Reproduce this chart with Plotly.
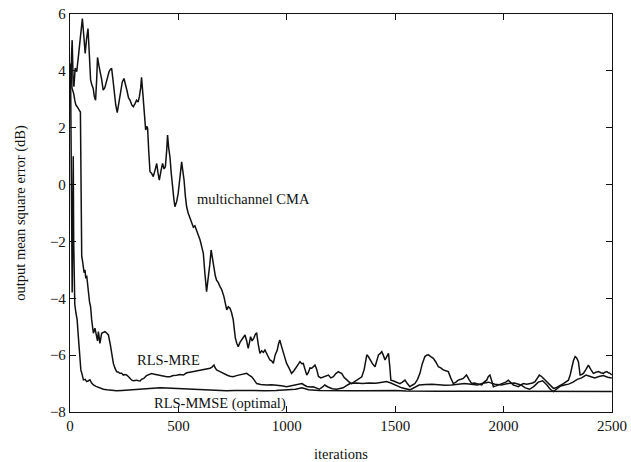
import plotly.graph_objects as go

# Learning curves: output MSE (dB) versus iteration count
cma_iter = [0, 4, 7, 10, 14, 18, 24, 31, 40, 48, 57, 64, 70, 76, 83, 89, 95, 101, 107, 112,
            118, 123, 127, 133, 138, 146, 153, 160, 166, 173, 180, 186, 192, 198, 204, 211, 218,
            226, 234, 241, 249, 256, 263, 270, 277, 285, 292, 300, 307, 314, 320, 326, 330, 336,
            341, 345, 349, 354, 358, 363, 369, 376, 384, 392, 400, 406, 412, 420, 427, 434, 440,
            446, 450, 455, 461, 467, 473, 479, 484, 492, 499, 507, 515, 520, 526, 532, 538, 545,
            551, 560, 569, 576, 584, 592, 600, 608, 615, 622, 630, 634, 638, 645, 651, 658, 664,
            670, 676, 684, 692, 700, 710, 716, 723, 730, 738, 745, 753, 758, 763, 770, 776, 784,
            792, 800, 807, 815, 822, 828, 833, 840, 848, 856, 861, 868, 876, 884, 892, 899, 907,
            915, 922, 930, 938, 946, 956, 962, 968, 976, 984, 992, 999, 1010, 1022, 1033, 1045,
            1053, 1061, 1069, 1076, 1084, 1092, 1100, 1107, 1115, 1122, 1130, 1138, 1146, 1157,
            1169, 1180, 1192, 1203, 1215, 1226, 1238, 1246, 1253, 1264, 1276, 1288, 1299, 1310,
            1322, 1334, 1346, 1357, 1369, 1376, 1384, 1395, 1407, 1415, 1423, 1430, 1438, 1445,
            1453, 1461, 1469, 1475, 1480, 1490, 1499, 1510, 1522, 1533, 1545, 1556, 1568, 1580,
            1591, 1603, 1614, 1625, 1637, 1645, 1653, 1664, 1676, 1688, 1699, 1710, 1722, 1733,
            1745, 1756, 1768, 1780, 1791, 1803, 1814, 1822, 1829, 1840, 1853, 1865, 1876, 1888,
            1899, 1910, 1922, 1930, 1937, 1945, 1953, 1965, 1976, 1988, 1999, 2010, 2022, 2033,
            2045, 2057, 2068, 2080, 2091, 2107, 2122, 2134, 2145, 2155, 2165, 2175, 2184, 2196,
            2207, 2218, 2230, 2241, 2253, 2265, 2276, 2288, 2299, 2307, 2315, 2322, 2330, 2337,
            2345, 2350, 2353, 2360, 2368, 2380, 2391, 2402, 2414, 2426, 2437, 2449, 2460, 2468,
            2476, 2484, 2491, 2499]
cma_db = [4.26, 3.6, 4.5, 5.08, 3.8, 3.44, 4.1, 3.97, 4.6, 5.3, 5.84, 5.2, 4.61, 5.1, 5.49, 4.6,
          3.68, 3.5, 3.38, 3.1, 2.97, 3.7, 4.47, 4.2, 4.03, 3.7, 3.32, 3.4, 3.56, 3.8, 3.97, 4.05,
          4.09, 3.7, 3.2, 2.8, 2.53, 2.9, 3.3, 3.6, 3.73, 3.55, 3.3, 3.05, 2.97, 2.8, 2.74, 2.85,
          2.97, 2.9, 3.09, 3.4, 3.77, 3.2, 2.62, 2.2, 1.92, 2.05, 1.98, 1.2, 0.45, 0.4, 0.28, 0.5,
          0.74, 0.4, 0.16, 0.5, 0.74, 0.55, 0.63, 1.2, 1.74, 1.3, 0.98, 0.4, -0.19, -0.5, -0.78,
          -0.6, -0.31, 0.3, 0.8, 0.5, 0.16, -0.4, -0.78, -1.0, -1.13, -1.3, -1.5, -1.45, -1.6,
          -1.75, -1.95, -2.2, -2.42, -3.1, -3.77, -3.5, -3.3, -2.8, -2.3, -2.7, -3.0, -3.2, -3.36,
          -3.45, -3.59, -3.7, -3.94, -4.2, -4.41, -4.3, -4.35, -4.5, -4.76, -5.1, -5.41, -5.6,
          -5.7, -5.55, -5.47, -5.35, -5.29, -5.5, -5.76, -5.55, -5.35, -5.5, -5.4, -5.25, -5.23,
          -5.6, -5.94, -5.85, -5.9, -5.82, -5.95, -6.1, -6.17, -6.2, -6.29, -6.0, -5.82, -5.6,
          -5.47, -5.7, -5.88, -6.1, -6.29, -6.45, -6.64, -6.55, -6.41, -6.3, -6.23, -6.3, -6.29,
          -6.5, -6.7, -6.6, -6.45, -6.46, -6.4, -6.35, -6.5, -6.75, -6.8, -6.76, -6.72, -6.7,
          -6.8, -6.76, -6.65, -6.58, -6.62, -6.64, -6.78, -6.88, -6.95, -7.0, -6.95, -6.88, -6.82,
          -6.76, -6.5, -5.99, -6.05, -6.17, -6.3, -6.41, -6.2, -5.99, -5.95, -5.88, -6.0, -6.17,
          -6.05, -5.94, -6.4, -6.88, -6.9, -6.93, -6.98, -7.0, -6.95, -6.88, -7.0, -7.11, -7.05,
          -7.0, -6.85, -6.64, -6.3, -6.05, -6.0, -5.99, -6.05, -6.11, -6.25, -6.41, -6.45, -6.52,
          -6.55, -6.58, -6.8, -7.0, -6.95, -6.88, -6.85, -6.82, -6.75, -6.7, -6.85, -7.0, -6.98,
          -7.0, -7.02, -7.05, -6.95, -6.88, -6.75, -6.7, -6.9, -7.11, -7.08, -7.05, -7.02, -7.0,
          -6.95, -6.88, -6.95, -7.05, -7.08, -7.11, -7.05, -7.0, -7.02, -7.0, -6.98, -6.93, -6.8,
          -6.7, -6.75, -6.82, -6.9, -7.0, -7.1, -7.17, -7.15, -7.11, -7.05, -7.0, -6.95, -6.88,
          -6.7, -6.41, -6.2, -6.05, -6.1, -6.23, -6.5, -6.7, -6.68, -6.64, -6.5, -6.35, -6.5,
          -6.64, -6.6, -6.58, -6.62, -6.64, -6.6, -6.58, -6.62, -6.64, -6.7]

mre_iter = [0, 3, 6, 9, 13, 17, 22, 27, 33, 38, 44, 48, 50, 52, 54, 58, 61, 65, 69, 73, 77, 80,
            85, 90, 95, 100, 104, 108, 115, 123, 127, 131, 138, 146, 153, 161, 169, 177, 185, 192,
            200, 207, 215, 223, 230, 238, 246, 253, 261, 269, 277, 285, 292, 300, 307, 315, 323,
            330, 340, 353, 365, 376, 384, 395, 405, 415, 430, 446, 461, 476, 492, 507, 523, 538,
            553, 569, 584, 600, 615, 630, 646, 655, 664, 670, 676, 692, 707, 723, 738, 753, 768,
            784, 800, 815, 826, 838, 850, 861, 880, 907, 930, 953, 975, 999, 1020, 1045, 1060,
            1070, 1080, 1092, 1110, 1122, 1135, 1150, 1165, 1175, 1190, 1210, 1230, 1260, 1280,
            1292, 1320, 1350, 1380, 1410, 1440, 1460, 1480, 1500, 1530, 1568, 1590, 1610, 1640,
            1670, 1700, 1730, 1760, 1790, 1820, 1850, 1880, 1900, 1930, 1960, 1990, 2020, 2050,
            2080, 2100, 2120, 2140, 2160, 2180, 2200, 2215, 2230, 2245, 2260, 2280, 2300, 2320,
            2340, 2360, 2380, 2400, 2420, 2440, 2460, 2480, 2499]
mre_db = [4.0, 3.6, 4.2, 3.4, 3.3, 3.2, 2.97, 2.8, 2.74, 2.65, 2.6, 2.55, 1.0, -1.0, -2.5, -2.7,
          -2.89, -3.1, -3.0, -3.3, -3.2, -3.5, -3.77, -4.12, -4.3, -4.76, -5.0, -5.23, -5.05, -5.3,
          -5.5, -5.17, -5.59, -5.23, -5.2, -5.17, -5.22, -5.29, -5.59, -6.0, -6.29, -6.45, -6.58,
          -6.6, -6.64, -6.64, -6.7, -6.68, -6.7, -6.75, -6.82, -6.88, -6.9, -6.88, -6.88, -6.9,
          -6.91, -6.85, -6.82, -6.72, -6.68, -6.65, -6.66, -6.68, -6.7, -6.7, -6.75, -6.76, -6.76,
          -6.72, -6.71, -6.68, -6.7, -6.62, -6.6, -6.58, -6.55, -6.52, -6.52, -6.5, -6.46, -6.42,
          -6.35, -6.45, -6.52, -6.58, -6.65, -6.7, -6.74, -6.76, -6.72, -6.7, -6.67, -6.64, -6.7,
          -6.76, -6.88, -7.0, -7.03, -7.05, -7.04, -7.05, -7.08, -7.11, -7.08, -7.05, -7.02, -7.0,
          -7.05, -7.1, -7.12, -7.11, -7.15, -7.2, -7.12, -7.05, -7.12, -7.18, -7.2, -7.15, -7.05,
          -7.0, -6.98, -7.0, -6.98, -6.99, -6.95, -6.93, -6.98, -7.05, -7.15, -7.22, -7.12, -7.05,
          -7.03, -7.02, -7.04, -7.06, -7.05, -7.03, -7.0, -7.02, -7.05, -7.0, -6.95, -7.02, -7.05,
          -7.0, -6.98, -7.05, -7.15, -7.2, -7.1, -6.95, -6.9, -7.05, -7.2, -7.28, -7.2, -7.1,
          -7.05, -7.02, -6.95, -6.85, -6.8, -6.7, -6.75, -6.8, -6.75, -6.72, -6.78, -6.8]

mmse_iter = [0, 3, 6, 8, 10, 12, 14, 15, 17, 19, 22, 27, 33, 38, 42, 46, 50, 55, 62, 70, 77, 85,
             92, 100, 108, 120, 131, 143, 154, 170, 185, 200, 215, 240, 261, 285, 307, 330, 353,
             385, 415, 445, 477, 510, 538, 570, 600, 640, 676, 720, 760, 800, 850, 900, 950, 1000,
             1040, 1070, 1100, 1150, 1200, 1250, 1300, 1350, 1400, 1450, 1500, 1550, 1600, 1650,
             1700, 1750, 1800, 1850, 1900, 1950, 2000, 2050, 2100, 2150, 2200, 2250, 2300, 2350,
             2400, 2450, 2499]
mmse_db = [4.0, 3.5, 0.5, -2.5, -3.8, -2.0, 0.5, 1.0, -2.0, -3.8, -4.2, -4.5, -4.76, -5.3, -5.7,
           -6.2, -6.52, -6.65, -6.87, -6.85, -6.93, -6.9, -6.87, -6.98, -7.05, -7.1, -7.13, -7.18,
           -7.2, -7.22, -7.23, -7.25, -7.25, -7.24, -7.23, -7.22, -7.2, -7.19, -7.17, -7.16, -7.15,
           -7.16, -7.17, -7.18, -7.2, -7.21, -7.23, -7.24, -7.25, -7.25, -7.24, -7.25, -7.26,
           -7.25, -7.24, -7.22, -7.2, -7.15, -7.22, -7.24, -7.25, -7.26, -7.25, -7.25, -7.24,
           -7.25, -7.24, -7.26, -7.27, -7.27, -7.27, -7.27, -7.27, -7.28, -7.28, -7.28, -7.28,
           -7.28, -7.29, -7.28, -7.28, -7.29, -7.29, -7.28, -7.28, -7.29, -7.28]

curve_labels = ["multichannel CMA", "RLS-MRE", "RLS-MMSE (optimal)"]
label_x = [577, 300, 378]
label_y = [-0.5, -6.17, -7.69]

x_ticks = [0, 500, 1000, 1500, 2000, 2500]
y_ticks = [-8, -6, -4, -2, 0, 2, 4, 6]

SERIF = "Liberation Serif, Times New Roman, serif"
INK = "#111111"

fig = go.Figure()
for xs, ys in [(cma_iter, cma_db), (mre_iter, mre_db), (mmse_iter, mmse_db)]:
    fig.add_trace(go.Scatter(x=xs, y=ys, mode="lines",
                             line=dict(color=INK, width=1.5), showlegend=False,
                             hoverinfo="skip"))

for text, lx, ly in zip(curve_labels, label_x, label_y):
    fig.add_annotation(x=lx, y=ly, text=text, showarrow=False, xanchor="left",
                       yanchor="middle", font=dict(family=SERIF, size=14.5, color=INK))

axis_common = dict(showline=True, linecolor=INK, linewidth=1.3, mirror="ticks",
                   ticks="inside", ticklen=6, tickwidth=1.2, tickcolor=INK,
                   showgrid=False, zeroline=False, automargin=False,
                   tickfont=dict(family=SERIF, size=15, color=INK))

fig.update_xaxes(range=[0, 2500], tickvals=x_ticks, **axis_common,
                 title=dict(text="iterations", standoff=22,
                            font=dict(family=SERIF, size=14.5, color=INK)))
fig.update_yaxes(range=[-8, 6], tickvals=y_ticks, **axis_common,
                 title=dict(text="output mean square error (dB)", standoff=20,
                            font=dict(family=SERIF, size=14.5, color=INK)))

fig.update_layout(width=631, height=462, margin=dict(l=70, r=19, t=14, b=50),
                  plot_bgcolor="white", paper_bgcolor="white")

fig.write_html("out.html")
